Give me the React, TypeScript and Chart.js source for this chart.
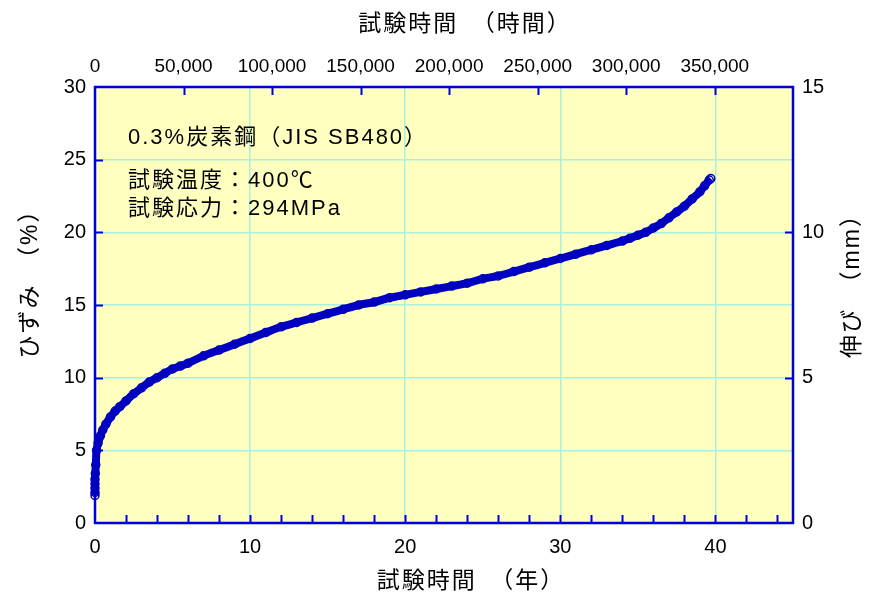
import React, { useEffect, useRef } from "react";
import { Chart, registerables } from "chart.js";

Chart.register(...registerables);

const years = [
  0, 0, 0, 0, 0, 0.02, 0.05, 0.1, 0.2, 0.35, 0.5, 0.7, 1.0, 1.3, 1.6, 2.0, 2.5, 3.0, 3.5, 4.0, 4.5,
  5.0, 5.5, 6, 7, 8, 9, 10, 11, 12, 13, 14, 15, 16, 17, 18, 19, 20, 21, 22, 23, 24, 25, 26, 27, 28,
  29, 30, 31, 32, 33, 34, 34.5, 35, 35.5, 36, 36.5, 37, 37.5, 38, 38.5, 39, 39.3, 39.6, 39.7,
];
const strain = [
  1.9, 2.1, 2.4, 2.7, 3.0, 3.4, 4.0, 5.0, 5.5, 6.0, 6.4, 6.8, 7.3, 7.7, 8.0, 8.4, 8.9, 9.3, 9.7, 10.0,
  10.3, 10.6, 10.8, 11.0, 11.5, 11.9, 12.3, 12.7, 13.1, 13.5, 13.8, 14.1, 14.4, 14.7, 15.0, 15.2,
  15.5, 15.7, 15.9, 16.1, 16.3, 16.5, 16.8, 17.0, 17.3, 17.6, 17.9, 18.2, 18.5, 18.8, 19.1, 19.4,
  19.6, 19.8, 20.0, 20.3, 20.6, 21.0, 21.4, 21.8, 22.3, 22.8, 23.2, 23.6, 23.7,
];

const yearTicks = [0, 10, 20, 30, 40];
const yearTicksMinor = [2, 4, 6, 8, 12, 14, 16, 18, 22, 24, 26, 28, 32, 34, 36, 38, 42, 44];
const hourTicks = [0, 50000, 100000, 150000, 200000, 250000, 300000, 350000];
const strainTicks = [0, 5, 10, 15, 20, 25, 30];
const elongTicks = [0, 5, 10, 15];

const annotationLines = ["0.3%炭素鋼（JIS SB480）", "試験温度：400℃", "試験応力：294MPa"];
const topTitle = "試験時間　（時間）";
const bottomTitle = "試験時間　（年）";
const leftTitle = "ひずみ　（%）";
const rightTitle = "伸び　（mm）";

const HOURS_PER_YEAR = 8760;
const BG = "#ffffc0";
const GRID = "#a8f0e0";
const FRAME = "#0000dd";
const CURVE = "#0000c0";
const LATIN = "'Liberation Sans', Arial, sans-serif";
const CJK = "'Liberation Sans', 'Noto Sans CJK JP', sans-serif";

const setTicks = (vals: number[]) => (s: any) => {
  s.ticks = vals.map((v) => ({ value: v }));
};

const decorPlugin = {
  id: "decor",
  beforeDraw(chart: any) {
    const { ctx, chartArea: a } = chart;
    ctx.save();
    ctx.fillStyle = BG;
    ctx.fillRect(a.left, a.top, a.right - a.left, a.bottom - a.top);
    ctx.restore();
  },
  beforeDatasetsDraw(chart: any) {
    const { ctx, chartArea: a, scales } = chart;
    ctx.save();
    ctx.strokeStyle = FRAME;
    ctx.lineWidth = 2;
    ctx.beginPath();
    const tl = 8;
    for (const v of [...yearTicksMinor, 10, 20, 30, 40]) {
      const x = Math.round(scales.x.getPixelForValue(v)) + 0.5;
      ctx.moveTo(x, a.bottom);
      ctx.lineTo(x, a.bottom - tl);
    }
    for (const v of hourTicks.slice(1)) {
      const x = Math.round(scales.x2.getPixelForValue(v)) + 0.5;
      ctx.moveTo(x, a.top);
      ctx.lineTo(x, a.top + tl);
    }
    for (const v of strainTicks.slice(1, -1)) {
      const y = Math.round(scales.y.getPixelForValue(v)) + 0.5;
      ctx.moveTo(a.left, y);
      ctx.lineTo(a.left + tl, y);
    }
    for (const v of elongTicks.slice(1, -1)) {
      const y = Math.round(scales.y2.getPixelForValue(v)) + 0.5;
      ctx.moveTo(a.right, y);
      ctx.lineTo(a.right - tl, y);
    }
    ctx.stroke();
    ctx.lineWidth = 2.5;
    ctx.strokeRect(a.left, a.top, a.right - a.left, a.bottom - a.top);
    ctx.restore();
  },
  afterDraw(chart: any) {
    const { ctx, chartArea: a } = chart;
    ctx.save();
    ctx.fillStyle = "#000";
    ctx.textBaseline = "middle";
    ctx.textAlign = "left";
    ctx.font = `22px ${CJK}`;
    (ctx as any).letterSpacing = "2px";
    ctx.fillText(annotationLines[0], a.left + 33, 138);
    ctx.fillText(annotationLines[1], a.left + 33, 181);
    ctx.fillText(annotationLines[2], a.left + 33, 209);

    ctx.textAlign = "center";
    ctx.font = `23px ${CJK}`;
    (ctx as any).letterSpacing = "2px";
    const cx = (a.left + a.right) / 2;
    ctx.fillText(topTitle, cx + 21, 25);
    ctx.fillText(bottomTitle, cx + 27, 582);

    ctx.save();
    ctx.translate(31, 278);
    ctx.rotate(-Math.PI / 2);
    ctx.fillText(leftTitle, 0, 0);
    ctx.restore();

    ctx.save();
    ctx.translate(853, 280);
    ctx.rotate(-Math.PI / 2);
    ctx.fillText(rightTitle, 0, 0);
    ctx.restore();
    ctx.restore();
  },
};

export default function App() {
  const ref = useRef<HTMLCanvasElement | null>(null);
  useEffect(() => {
    document.body.style.margin = "0";
    const canvas = ref.current;
    if (!canvas) return;
    const tickFont = { family: LATIN, size: 20 };
    const chart = new Chart(canvas, {
      type: "line",
      data: {
        datasets: [
          {
            data: years.map((t, i) => ({ x: t, y: strain[i] })),
            borderColor: CURVE,
            borderWidth: 8,
            pointRadius: 4,
            pointBorderWidth: 1.5,
            pointBorderColor: CURVE,
            pointBackgroundColor: "rgba(0,0,0,0)",
            pointStyle: "circle",
            tension: 0.3,
            fill: false,
            clip: false as any,
            xAxisID: "x",
            yAxisID: "y",
          },
        ],
      },
      options: {
        animation: false,
        responsive: false,
        maintainAspectRatio: false,
        layout: { padding: 0 },
        plugins: { legend: { display: false }, tooltip: { enabled: false } },
        scales: {
          x: {
            type: "linear",
            position: "bottom",
            min: 0,
            max: 45,
            afterBuildTicks: setTicks(yearTicks),
            ticks: { color: "#000", font: tickFont, padding: 12, maxRotation: 0, autoSkip: false },
            grid: { color: GRID, lineWidth: 1.5, drawTicks: false },
            border: { display: false },
            afterFit: (s: any) => {
              s.height = 75;
            },
          },
          x2: {
            type: "linear",
            position: "top",
            min: 0,
            max: 45 * HOURS_PER_YEAR,
            afterBuildTicks: setTicks(hourTicks),
            ticks: {
              color: "#000",
              font: { family: LATIN, size: 19 },
              padding: 9,
              maxRotation: 0,
              autoSkip: false,
              callback: (v: any) => Number(v).toLocaleString("en-US"),
            },
            grid: { display: false, drawTicks: false },
            border: { display: false },
            afterFit: (s: any) => {
              s.height = 87;
            },
          },
          y: {
            type: "linear",
            position: "left",
            min: 0,
            max: 30,
            afterBuildTicks: setTicks(strainTicks),
            ticks: { color: "#000", font: tickFont, padding: 9, autoSkip: false },
            grid: { color: GRID, lineWidth: 1.5, drawTicks: false },
            border: { display: false },
            afterFit: (s: any) => {
              s.width = 95;
            },
          },
          y2: {
            type: "linear",
            position: "right",
            min: 0,
            max: 15,
            afterBuildTicks: setTicks(elongTicks),
            ticks: { color: "#000", font: tickFont, padding: 9, autoSkip: false },
            grid: { display: false, drawTicks: false },
            border: { display: false },
            afterFit: (s: any) => {
              s.width = 79;
            },
          },
        },
      },
      plugins: [decorPlugin],
    } as any);
    return () => chart.destroy();
  }, []);
  return (
    <div style={{ width: 872, height: 598, background: "#fff" }}>
      <canvas ref={ref} width={872} height={598} style={{ display: "block" }} />
    </div>
  );
}
